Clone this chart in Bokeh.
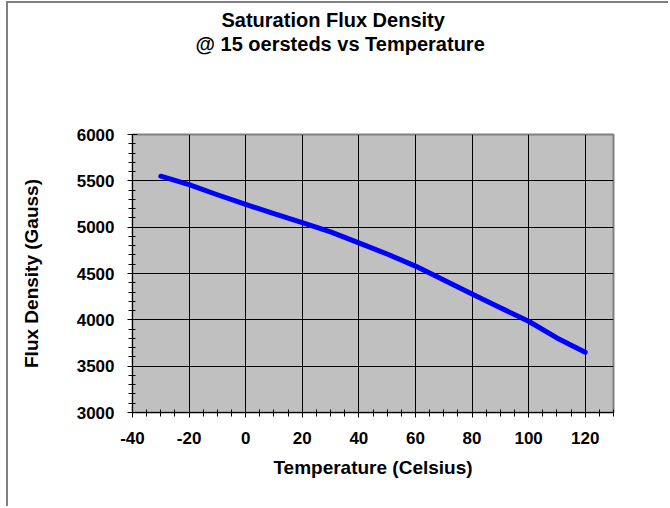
from bokeh.plotting import figure
from bokeh.models import Title, SingleIntervalTicker, Range1d
from bokeh.embed import file_html
from bokeh.resources import INLINE

# Data
temperature_c = [-30, -20, -10, 0, 10, 20, 30, 40, 50, 60, 70, 80, 90, 100, 110, 120]
flux_gauss = [5550, 5460, 5350, 5245, 5145, 5050, 4950, 4830, 4710, 4580, 4430, 4280, 4130, 3985, 3805, 3650]

title_lines = ["Saturation Flux Density", "@ 15 oersteds vs Temperature"]
x_label = "Temperature (Celsius)"
y_label = "Flux Density (Gauss)"
x_tick_labels = {-40: "-40", -20: "-20", 0: "0", 20: "20", 40: "40", 60: "60",
                 80: "80", 100: "100", 120: "120"}

FONT = "Liberation Sans"

p = figure(width=662, height=505, output_backend="svg", toolbar_location=None,
           x_range=Range1d(-40, 130), y_range=Range1d(3000, 6000),
           min_border_left=124, min_border_top=131, min_border_right=57, min_border_bottom=96)

p.background_fill_color = "#C0C0C0"
p.border_fill_color = "white"
p.outline_line_color = "#808080"
p.outline_line_width = 2
p.styles = {"border-left": "2px solid #808080", "border-top": "2px solid #808080",
            "margin-left": "6px", "margin-top": "1px"}

# Two-line title: line 1 as the figure title (outermost), line 2 below it,
# and a blank spacer title filling the gap down to the frame
p.title.text = title_lines[0]
p.title.align = "left"
p.title.offset = 89
p.title.standoff = 0
p.title.text_font = FONT
p.title.text_font_style = "bold"
p.title.text_font_size = "20px"
p.title.text_color = "black"

spacer = Title(text=" ", standoff=56, text_font=FONT, text_font_style="bold",
               text_font_size="20px")
p.add_layout(spacer, "above")
sub = Title(text=title_lines[1], align="left", offset=63, standoff=0,
            text_font=FONT, text_font_style="bold", text_font_size="20px", text_color="black")
p.add_layout(sub, "above")

p.xaxis.ticker = SingleIntervalTicker(interval=20, num_minor_ticks=4)
p.yaxis.ticker = SingleIntervalTicker(interval=500, num_minor_ticks=5)
p.xaxis.major_label_overrides = x_tick_labels

for ax in (p.xaxis[0], p.yaxis[0]):
    ax.axis_line_color = "black"
    ax.axis_line_width = 1
    ax.major_tick_line_color = "black"
    ax.minor_tick_line_color = "black"
    ax.major_tick_in = 5
    ax.major_tick_out = 5
    ax.minor_tick_in = 3
    ax.minor_tick_out = 4
    ax.major_label_text_font = FONT
    ax.major_label_text_font_style = "bold"
    ax.major_label_text_font_size = "17px"
    ax.major_label_text_color = "black"
    ax.axis_label_text_font = FONT
    ax.axis_label_text_font_style = "bold"
    ax.axis_label_text_font_size = "19px"
    ax.axis_label_text_color = "black"

p.xaxis.axis_label = x_label
p.yaxis.axis_label = y_label
p.xaxis.major_label_standoff = 14
p.yaxis.major_label_standoff = 13
p.xaxis.axis_label_standoff = 10
p.yaxis.axis_label_standoff = 32

p.xgrid.grid_line_color = "black"
p.ygrid.grid_line_color = "black"
p.xgrid.grid_line_width = 1
p.ygrid.grid_line_width = 1

p.line(temperature_c, flux_gauss, line_color="#0000FF", line_width=5,
       line_cap="round", line_join="round")

open("out.html", "w").write(file_html(p, INLINE))
